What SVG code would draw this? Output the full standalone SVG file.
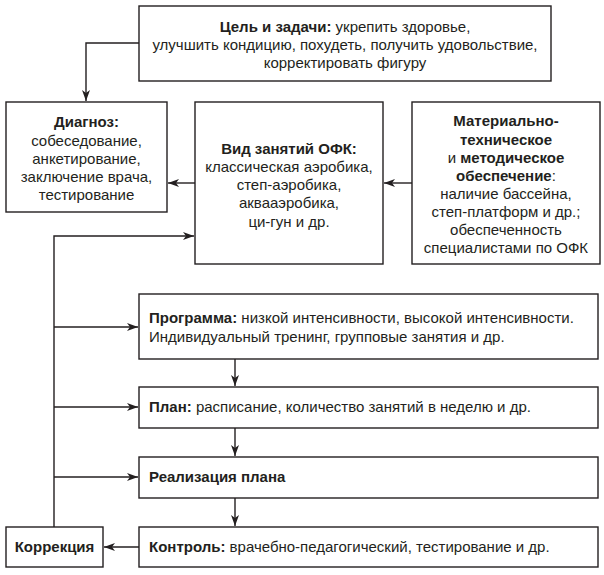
<svg xmlns="http://www.w3.org/2000/svg" width="604" height="575" viewBox="0 0 604 575">
<style>
.box{fill:#fff;stroke:#231f20;stroke-width:1.4}
.t{font-family:"Liberation Sans",Arial,sans-serif;font-size:15px;fill:#231f20}
.c{text-anchor:middle}
.b{font-weight:bold}
.ln{fill:none;stroke:#231f20;stroke-width:1.4}
</style>
<defs>
<marker id="ah" markerWidth="12" markerHeight="8" refX="11" refY="4" orient="auto" markerUnits="userSpaceOnUse">
<path d="M0,0 L11,4 L0,8 L3,4 z" fill="#231f20"/>
</marker>
</defs>
<rect width="604" height="575" fill="#fff"/>
<g id="connectors">
<path class="ln" d="M139,43 H86 V101" marker-end="url(#ah)"/>
<path class="ln" d="M195,183 H168" marker-end="url(#ah)"/>
<path class="ln" d="M412,183 H384" marker-end="url(#ah)"/>
<path class="ln" d="M54,527 V236 H194" marker-end="url(#ah)"/>
<path class="ln" d="M54,327 H138" marker-end="url(#ah)"/>
<path class="ln" d="M54,407 H138" marker-end="url(#ah)"/>
<path class="ln" d="M54,477 H138" marker-end="url(#ah)"/>
<path class="ln" d="M235,359 V386" marker-end="url(#ah)"/>
<path class="ln" d="M235,428 V456" marker-end="url(#ah)"/>
<path class="ln" d="M235,498 V526" marker-end="url(#ah)"/>
<path class="ln" d="M139,547 H104" marker-end="url(#ah)"/>
</g>
<g id="goal">
<rect class="box" x="139" y="6" width="412" height="75"/>
<text class="t c" x="345" y="32"><tspan class="b">Цель и задачи:</tspan> укрепить здоровье,</text>
<text class="t c" x="345" y="50">улучшить кондицию, похудеть, получить удовольствие,</text>
<text class="t c" x="345" y="68">корректировать фигуру</text>
</g>
<g id="diagnoz">
<rect class="box" x="6" y="102" width="161" height="110"/>
<text class="t c b" x="86.5" y="127">Диагноз:</text>
<text class="t c" x="86.5" y="146">собеседование,</text>
<text class="t c" x="86.5" y="164">анкетирование,</text>
<text class="t c" x="86.5" y="182">заключение врача,</text>
<text class="t c" x="86.5" y="200">тестирование</text>
</g>
<g id="vid">
<rect class="box" x="195" y="102" width="188" height="162"/>
<text class="t c b" x="289" y="154">Вид занятий ОФК:</text>
<text class="t c" x="289" y="172">классическая аэробика,</text>
<text class="t c" x="289" y="190">степ-аэробика,</text>
<text class="t c" x="289" y="208">аквааэробика,</text>
<text class="t c" x="289" y="227">ци-гун и др.</text>
</g>
<g id="material">
<rect class="box" x="412" y="102" width="188" height="162"/>
<text class="t c b" x="506" y="126">Материально-</text>
<text class="t c b" x="506" y="145">техническое</text>
<text class="t c" x="506" y="163">и <tspan class="b">методическое</tspan></text>
<text class="t c" x="506" y="181"><tspan class="b">обеспечение</tspan>:</text>
<text class="t c" x="506" y="199">наличие бассейна,</text>
<text class="t c" x="506" y="217">степ-платформ и др.;</text>
<text class="t c" x="506" y="235">обеспеченность</text>
<text class="t c" x="506" y="253">специалистами по ОФК</text>
</g>
<g id="programma">
<rect class="box" x="139" y="294" width="459" height="65"/>
<text class="t" x="149" y="323"><tspan class="b">Программа:</tspan> низкой интенсивности, высокой интенсивности.</text>
<text class="t" x="149" y="342">Индивидуальный тренинг, групповые занятия и др.</text>
</g>
<g id="plan">
<rect class="box" x="139" y="387" width="459" height="41"/>
<text class="t" x="149" y="412"><tspan class="b">План:</tspan> расписание, количество занятий в неделю и др.</text>
</g>
<g id="realizacia">
<rect class="box" x="139" y="457" width="459" height="41"/>
<text class="t b" x="149" y="482">Реализация плана</text>
</g>
<g id="kontrol">
<rect class="box" x="139" y="527" width="459" height="40"/>
<text class="t" x="149" y="552"><tspan class="b">Контроль:</tspan> врачебно-педагогический, тестирование и др.</text>
</g>
<g id="korrekcia">
<rect class="box" x="6" y="527" width="97" height="40"/>
<text class="t c b" x="54.5" y="552">Коррекция</text>
</g>
</svg>
